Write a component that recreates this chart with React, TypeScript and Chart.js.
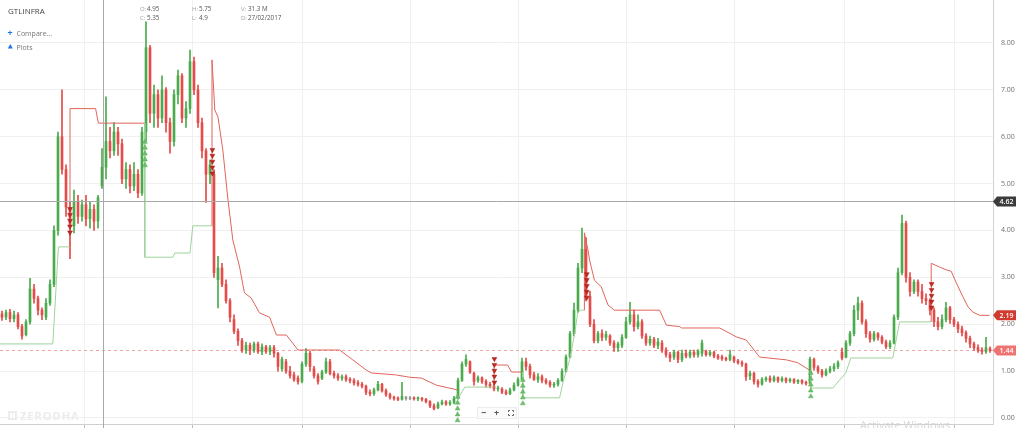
import React, { useEffect, useRef } from "react";
import { Chart, registerables } from "chart.js";

Chart.register(...registerables);

const W = 1024;
const H = 428;

// ---- Weekly OHLC of GTLINFRA ----
const opens = [
  2.22, 2.15, 2.25, 2.12, 2.2, 1.95, 1.78, 2.05, 2.75, 2.55,
  2.3, 2.15, 2.45, 2.85, 4.0, 6.0, 5.3, 4.5, 4.1, 4.6,
  4.3, 4.55, 4.25, 4.45, 4.2, 4.95, 5.35, 5.9, 5.7, 6.1,
  5.85, 5.1, 5.3, 4.95, 5.2, 4.8, 6.1, 7.9, 6.5, 6.9,
  6.4, 7.0, 6.3, 5.9, 6.9, 7.3, 6.4, 6.6, 7.6, 7.0,
  6.3, 5.7, 5.2, 5.2, 2.95, 3.2, 2.85, 2.5, 2.1, 1.85,
  1.65, 1.45, 1.55, 1.45, 1.58, 1.42, 1.52, 1.42, 1.5, 1.38,
  1.05, 1.2, 1.0, 0.92, 0.85, 0.78, 1.15, 1.38, 1.05, 0.9,
  0.85, 0.98, 1.2, 0.95, 0.9, 0.85, 0.88, 0.82, 0.8, 0.75,
  0.72, 0.68, 0.55, 0.52, 0.6, 0.72, 0.58, 0.5, 0.44, 0.42,
  0.4, 0.44, 0.43, 0.43, 0.41, 0.42, 0.4, 0.35, 0.26, 0.22,
  0.3, 0.34, 0.3, 0.33, 0.42, 0.8, 1.15, 1.2, 0.95, 0.8,
  0.86, 0.78, 0.72, 0.68, 0.62, 0.62, 0.56, 0.52, 0.6, 0.7,
  0.82, 1.2, 1.1, 0.92, 0.82, 0.88, 0.8, 0.76, 0.7, 0.72,
  0.8, 1.0, 1.3, 1.8, 2.3, 3.2, 3.6, 2.6, 2.0, 1.65,
  1.8, 1.72, 1.75, 1.6, 1.5, 1.55, 1.72, 2.05, 2.2, 1.95,
  2.05, 1.75, 1.6, 1.68, 1.55, 1.6, 1.45, 1.35, 1.3, 1.4,
  1.25, 1.38, 1.32, 1.4, 1.35, 1.38, 1.42, 1.35, 1.4, 1.32,
  1.3, 1.27, 1.25, 1.3, 1.22, 1.18, 1.15, 0.9, 0.95, 0.78,
  0.72, 0.82, 0.85, 0.8, 0.86, 0.8, 0.84, 0.79, 0.82, 0.77,
  0.8, 0.76, 0.74, 1.25, 1.08, 1.0, 0.92, 1.0, 1.05, 1.1,
  1.4, 1.3, 1.6, 1.8, 2.3, 2.45, 2.05, 1.8, 1.68, 1.8,
  1.72, 1.62, 1.52, 1.6, 2.15, 3.1, 4.15, 3.0, 2.7, 2.9,
  2.7, 2.55, 2.5, 2.3, 2.05, 1.95, 2.1, 2.35, 2.1, 2.0,
  1.9, 1.82, 1.7, 1.58, 1.5, 1.45, 1.42, 1.48,
];
const highs = [
  2.28, 2.3, 2.32, 2.28, 2.25, 2.0, 2.1, 2.98, 2.85, 2.6,
  2.35, 2.55, 2.95, 4.1, 6.1, 7.0, 5.4, 4.6, 4.86, 4.75,
  4.65, 4.75, 4.6, 4.55, 4.75, 5.75, 6.85, 6.2, 6.3, 6.2,
  5.95, 5.45, 5.4, 5.45, 5.3, 6.2, 8.45, 7.95, 7.1, 7.0,
  7.3, 7.05, 6.4, 7.0, 7.42, 7.35, 6.75, 7.85, 7.7, 7.1,
  6.4, 5.75, 5.5, 5.3, 3.45, 3.3, 2.95, 2.55, 2.2, 1.9,
  1.7, 1.62, 1.6, 1.62, 1.62, 1.58, 1.55, 1.55, 1.55, 1.4,
  1.3, 1.25, 1.1, 0.98, 0.9, 1.2, 1.48, 1.42, 1.1, 0.95,
  1.02, 1.28, 1.25, 1.0, 0.95, 0.92, 0.92, 0.86, 0.84, 0.8,
  0.76, 0.7, 0.6, 0.64, 0.78, 0.74, 0.62, 0.53, 0.47, 0.45,
  0.76, 0.46, 0.46, 0.45, 0.45, 0.44, 0.42, 0.37, 0.3, 0.34,
  0.38, 0.37, 0.37, 0.46, 0.85, 1.2, 1.35, 1.22, 0.98, 0.9,
  0.88, 0.82, 0.76, 0.72, 0.68, 0.65, 0.6, 0.64, 0.75, 0.86,
  1.28, 1.28, 1.15, 0.98, 0.95, 0.92, 0.84, 0.8, 0.76, 0.84,
  1.05, 1.35, 1.85, 2.45, 3.3, 4.05, 3.85, 2.7, 2.1, 1.85,
  1.88, 1.85, 1.78, 1.65, 1.62, 1.78, 2.15, 2.47, 2.3, 2.2,
  2.1, 1.8, 1.75, 1.72, 1.7, 1.65, 1.5, 1.4, 1.45, 1.42,
  1.45, 1.45, 1.45, 1.45, 1.46, 1.66, 1.45, 1.44, 1.42, 1.36,
  1.34, 1.3, 1.45, 1.32, 1.25, 1.22, 1.17, 1.0, 0.98, 0.82,
  0.86, 0.88, 0.9, 0.9, 0.88, 0.88, 0.86, 0.85, 0.84, 0.82,
  0.82, 0.79, 1.3, 1.28, 1.12, 1.04, 1.05, 1.1, 1.16, 1.22,
  1.49, 1.65, 1.85, 2.4, 2.58, 2.5, 2.1, 1.85, 1.85, 1.82,
  1.76, 1.66, 1.65, 2.2, 3.2, 4.33, 4.2, 3.1, 2.95, 2.95,
  2.85, 2.65, 2.55, 2.35, 2.15, 2.2, 2.47, 2.38, 2.15, 2.05,
  1.96, 1.86, 1.75, 1.62, 1.56, 1.5, 1.72, 1.52,
];
const lows = [
  2.08, 2.1, 2.05, 2.05, 1.9, 1.68, 1.75, 2.0, 2.45, 2.2,
  2.1, 2.1, 2.4, 2.8, 3.9, 5.2, 4.3, 3.4, 3.95, 4.15,
  4.2, 4.1, 4.05, 4.0, 4.05, 4.9, 5.1, 5.55, 5.6, 5.6,
  5.0, 4.9, 4.8, 4.85, 4.7, 4.75, 5.9, 6.3, 6.2, 6.2,
  6.3, 6.1, 5.65, 5.8, 6.7, 6.3, 6.2, 6.5, 6.9, 6.2,
  5.55, 4.6, 5.0, 3.0, 2.35, 2.8, 2.45, 2.05, 1.8, 1.55,
  1.4, 1.38, 1.35, 1.4, 1.38, 1.35, 1.38, 1.35, 1.3, 1.0,
  1.0, 0.95, 0.85, 0.78, 0.72, 0.75, 1.1, 1.0, 0.85, 0.72,
  0.82, 0.95, 0.92, 0.85, 0.8, 0.8, 0.78, 0.75, 0.7, 0.68,
  0.64, 0.5, 0.47, 0.48, 0.58, 0.55, 0.46, 0.4, 0.38, 0.37,
  0.38, 0.38, 0.39, 0.38, 0.37, 0.36, 0.32, 0.22, 0.17, 0.2,
  0.28, 0.27, 0.27, 0.3, 0.4, 0.78, 1.1, 0.95, 0.7, 0.76,
  0.74, 0.66, 0.64, 0.58, 0.57, 0.52, 0.49, 0.5, 0.58, 0.68,
  0.8, 1.02, 0.85, 0.8, 0.76, 0.75, 0.72, 0.66, 0.65, 0.68,
  0.78, 0.98, 1.28, 1.75, 2.25, 3.1, 2.5, 1.95, 1.6, 1.6,
  1.65, 1.66, 1.55, 1.42, 1.42, 1.5, 1.7, 2.0, 1.85, 1.9,
  1.7, 1.55, 1.55, 1.5, 1.48, 1.4, 1.3, 1.2, 1.25, 1.18,
  1.2, 1.28, 1.28, 1.3, 1.3, 1.32, 1.32, 1.32, 1.28, 1.25,
  1.23, 1.22, 1.22, 1.18, 1.15, 1.1, 0.8, 0.82, 0.72, 0.66,
  0.7, 0.78, 0.76, 0.77, 0.76, 0.77, 0.75, 0.76, 0.74, 0.73,
  0.72, 0.7, 0.72, 1.02, 0.95, 0.87, 0.9, 0.96, 1.0, 1.05,
  1.24, 1.28, 1.55, 1.75, 2.1, 2.0, 1.72, 1.62, 1.64, 1.66,
  1.58, 1.48, 1.48, 1.58, 2.1, 3.05, 2.9, 2.6, 2.65, 2.6,
  2.45, 2.42, 2.2, 1.95, 1.88, 1.9, 2.05, 2.02, 1.95, 1.82,
  1.75, 1.62, 1.5, 1.44, 1.4, 1.36, 1.38, 1.4,
];
const closes = [
  2.15, 2.25, 2.12, 2.2, 1.95, 1.75, 2.05, 2.75, 2.55, 2.3,
  2.2, 2.45, 2.85, 4.0, 6.0, 5.3, 4.5, 4.1, 4.6, 4.3,
  4.55, 4.25, 4.45, 4.2, 4.7, 5.35, 5.9, 5.7, 6.1, 5.85,
  5.1, 5.3, 4.95, 5.2, 4.8, 6.1, 7.9, 6.5, 6.9, 6.4,
  7.0, 6.3, 5.9, 6.9, 7.3, 6.4, 6.6, 7.6, 7.0, 6.3,
  5.7, 5.2, 5.4, 3.1, 3.2, 2.85, 2.5, 2.15, 1.85, 1.65,
  1.45, 1.55, 1.45, 1.58, 1.42, 1.52, 1.42, 1.5, 1.38, 1.1,
  1.25, 1.0, 0.9, 0.82, 0.78, 1.15, 1.38, 1.1, 0.9, 0.78,
  0.98, 1.2, 0.95, 0.9, 0.85, 0.88, 0.82, 0.8, 0.75, 0.72,
  0.68, 0.55, 0.52, 0.6, 0.72, 0.58, 0.5, 0.44, 0.42, 0.4,
  0.46, 0.44, 0.43, 0.41, 0.42, 0.4, 0.35, 0.26, 0.2, 0.3,
  0.34, 0.3, 0.33, 0.42, 0.8, 1.15, 1.25, 0.98, 0.78, 0.86,
  0.78, 0.72, 0.68, 0.62, 0.64, 0.55, 0.52, 0.6, 0.7, 0.82,
  1.2, 1.1, 0.92, 0.82, 0.88, 0.8, 0.76, 0.7, 0.72, 0.8,
  1.0, 1.3, 1.8, 2.3, 3.2, 3.6, 2.6, 2.0, 1.65, 1.8,
  1.72, 1.78, 1.6, 1.5, 1.58, 1.72, 2.05, 2.2, 1.95, 2.05,
  1.75, 1.6, 1.68, 1.55, 1.62, 1.45, 1.35, 1.28, 1.4, 1.25,
  1.38, 1.32, 1.4, 1.35, 1.42, 1.6, 1.35, 1.4, 1.32, 1.28,
  1.27, 1.25, 1.35, 1.22, 1.18, 1.15, 0.88, 0.95, 0.78, 0.72,
  0.82, 0.85, 0.8, 0.86, 0.8, 0.84, 0.79, 0.82, 0.77, 0.8,
  0.76, 0.74, 1.25, 1.08, 1.0, 0.92, 1.0, 1.05, 1.1, 1.18,
  1.28, 1.6, 1.8, 2.3, 2.45, 2.05, 1.8, 1.68, 1.8, 1.72,
  1.62, 1.52, 1.6, 2.15, 3.1, 4.15, 3.0, 2.7, 2.9, 2.7,
  2.55, 2.5, 2.3, 2.05, 1.95, 2.1, 2.35, 2.1, 2.0, 1.9,
  1.82, 1.7, 1.58, 1.5, 1.45, 1.42, 1.5, 1.44,
];

// ---- Trailing-stop study (segments of [candleIndex, price]) ----
const greenStopSegments = [
  [[-0.6, 1.58], [12.7, 1.58], [14.1, 3.65], [17, 3.65]],
  [[35.7, 6.29], [35.7, 3.43], [42.7, 3.43], [43.2, 3.52], [47, 3.52], [47.7, 4.1], [52.5, 4.1]],
  [[113.8, 0.38], [115.7, 0.66], [122.9, 0.66]],
  [[130.2, 0.98], [130.2, 0.43], [139.4, 0.43], [140.4, 0.81], [141.9, 1.24], [143.2, 1.81], [143.9, 2.24], [144.7, 2.3], [145.6, 2.3]],
  [[202.2, 1.02], [202.2, 0.64], [207.7, 0.64], [209.4, 0.81], [210.9, 0.95], [212.2, 1.28], [222.7, 1.28], [224.4, 2.05], [232.3, 2.05]],
];
const redStopSegments = [
  [[17, 3.65], [17, 6.6], [23.4, 6.6], [24.1, 6.29], [35.6, 6.29]],
  [[52.5, 4.1], [52.5, 7.64], [53.2, 6.57], [54, 6.42], [55.2, 5.72], [56.5, 4.65], [57.7, 3.8], [59.4, 3.22], [60.6, 2.67], [62.3, 2.56], [64.4, 2.24], [66.9, 2.15], [68.6, 1.77], [71.1, 1.77], [74, 1.45], [84.4, 1.45], [87.7, 1.24], [91.1, 1.02], [92.4, 0.96], [98.4, 0.92], [101.9, 0.87], [104.9, 0.85], [108.6, 0.7], [113.8, 0.6]],
  [[123, 0.66], [123, 1.13], [126.4, 1.13], [127.4, 0.98], [129.9, 0.98]],
  [[145.6, 2.3], [145.6, 3.95], [146.5, 3.58], [146.9, 3.37], [148.1, 2.94], [149.8, 2.8], [151.5, 2.41], [153.1, 2.3], [164.4, 2.3], [166.1, 1.98], [169.4, 1.95], [169.9, 1.92], [179.4, 1.92], [183.6, 1.73], [186.1, 1.66], [189.4, 1.3], [196.1, 1.24], [198.9, 1.18], [201.9, 1.02]],
  [[232.3, 2.05], [232.3, 3.3], [234.4, 3.22], [236.1, 3.16], [237.3, 3.13], [238.6, 2.88], [240.2, 2.59], [241.5, 2.37], [242.7, 2.26], [244.4, 2.19], [246.9, 2.19]],
];

// signal markers: [candleIndex, top price of the stack]
const sellSignals = [[17, 4.46], [52.6, 5.72], [123.1, 1.26], [146.2, 3.07], [232.4, 2.86]];
const buySignals = [[35.75, 5.89], [113.9, 0.45], [130.2, 0.81], [202.2, 0.96]];
const markersPerSignal = 5;
const markerStep = 0.125;

const priceTicks = [0, 1, 2, 3, 4, 5, 6, 7, 8];
const yearTickIndex = [20.7, 47.7, 75.2, 102.2, 129.2, 156.2, 183.2, 210.5, 238];

const crossIndex = 25.2;
const crossPrice = 4.62;
const lastPrice = 1.44;
const stopPrice = 2.19;

const header = { symbol: "GTLINFRA", O: "4.95", C: "5.35", H: "5.75", L: "4.9", V: "31.3 M", D: "27/02/2017" };

const X_MIN = -0.5;
const X_MAX = X_MIN + 993 / 4;
const Y_MIN = -0.128;
const Y_MAX = 8.9173;

const GREEN = "#4aab4d";
const RED = "#e24c4a";
const GRAY = "#9a9a9a";
const FONT = '"Open Sans", "Lato", sans-serif';

function candleColor(i: number) {
  const d = closes[i] - opens[i];
  if (d > 0.004) return GREEN;
  if (d < -0.004) return RED;
  return GRAY;
}

function badge(ctx: CanvasRenderingContext2D, x: number, y: number, text: string, color: string) {
  const h = 10;
  const bx = x + 4;
  const bw = 19;
  ctx.fillStyle = color;
  ctx.beginPath();
  ctx.moveTo(x, y);
  ctx.lineTo(bx, y - h / 2);
  ctx.lineTo(bx + bw, y - h / 2);
  ctx.lineTo(bx + bw, y + h / 2);
  ctx.lineTo(bx, y + h / 2);
  ctx.closePath();
  ctx.fill();
  ctx.fillStyle = "#ffffff";
  ctx.font = `600 7px ${FONT}`;
  ctx.textAlign = "center";
  ctx.textBaseline = "middle";
  ctx.fillText(text, bx + bw / 2, y + 0.5);
}

const overlayPlugin = {
  id: "overlay",
  beforeDatasetsDraw(chart: any) {
    const { ctx, chartArea: a, scales } = chart;
    const y = scales.y;
    const yl = Math.round(y.getPixelForValue(lastPrice)) + 0.5;
    ctx.save();
    ctx.strokeStyle = "#f1a4a4";
    ctx.lineWidth = 1;
    ctx.setLineDash([3, 3]);
    ctx.beginPath();
    ctx.moveTo(a.left, yl);
    ctx.lineTo(a.right, yl);
    ctx.stroke();
    ctx.restore();
  },
  afterDatasetsDraw(chart: any) {
    const { ctx, chartArea: a, scales } = chart;
    const x = scales.x;
    const y = scales.y;
    ctx.save();
    ctx.strokeStyle = "#a9a9a9";
    ctx.lineWidth = 1;
    const xc = Math.round(x.getPixelForValue(crossIndex)) + 0.5;
    ctx.beginPath();
    ctx.moveTo(xc, 0);
    ctx.lineTo(xc, H);
    ctx.stroke();
    const yc = Math.round(y.getPixelForValue(crossPrice)) + 0.5;
    ctx.beginPath();
    ctx.moveTo(a.left, yc);
    ctx.lineTo(a.right, yc);
    ctx.stroke();
    ctx.restore();
  },
  afterDraw(chart: any) {
    const { ctx, chartArea: a, scales } = chart;
    const y = scales.y;
    ctx.save();
    badge(ctx, a.right, y.getPixelForValue(crossPrice), crossPrice.toFixed(2), "#3b3b3b");
    badge(ctx, a.right, y.getPixelForValue(stopPrice), stopPrice.toFixed(2), "#cf3b2e");
    badge(ctx, a.right, y.getPixelForValue(lastPrice), lastPrice.toFixed(2), "#ee7471");

    ctx.textAlign = "left";
    ctx.textBaseline = "middle";
    ctx.fillStyle = "#454545";
    ctx.font = `8px ${FONT}`;
    ctx.fillText(header.symbol, 8, 11.5);

    const pair = (lab: string, val: string, px: number, py: number) => {
      ctx.font = `6px ${FONT}`;
      ctx.fillStyle = "#a0a0a0";
      ctx.fillText(lab, px, py);
      ctx.fillStyle = "#555555";
      ctx.font = `6.3px ${FONT}`;
      ctx.fillText(val, px + 7, py);
    };
    pair("O:", header.O, 140, 9.5);
    pair("C:", header.C, 140, 18.5);
    pair("H:", header.H, 192, 9.5);
    pair("L:", header.L, 192, 18.5);
    pair("V:", header.V, 241, 9.5);
    pair("D:", header.D, 241, 18.5);

    ctx.fillStyle = "#1a73e8";
    ctx.font = `bold 9px ${FONT}`;
    ctx.fillText("+", 7.5, 33.5);
    ctx.fillStyle = "#777777";
    ctx.font = `7px ${FONT}`;
    ctx.fillText("Compare...", 16.5, 33.5);
    ctx.fillStyle = "#1a73e8";
    ctx.beginPath();
    ctx.moveTo(10.3, 44);
    ctx.lineTo(12.8, 48.5);
    ctx.lineTo(7.8, 48.5);
    ctx.closePath();
    ctx.fill();
    ctx.fillStyle = "#777777";
    ctx.fillText("Plots", 16.5, 47.5);

    // watermark
    ctx.fillStyle = "#ececec";
    ctx.fillRect(8, 411, 9, 9);
    ctx.fillStyle = "#ffffff";
    ctx.fillRect(10, 413, 2, 5);
    ctx.fillRect(13, 413, 2, 5);
    ctx.fillStyle = "#ececec";
    ctx.font = `bold 11px ${FONT}`;
    (ctx as any).letterSpacing = "1px";
    ctx.fillText("ZERODHA", 20, 416.5);
    (ctx as any).letterSpacing = "0px";

    // zoom controls
    ctx.fillStyle = "#fbfbfb";
    ctx.strokeStyle = "#ececec";
    ctx.fillRect(477, 407, 40, 12);
    ctx.strokeRect(477.5, 407.5, 39, 11);
    ctx.fillStyle = "#555555";
    ctx.font = `bold 9px ${FONT}`;
    ctx.textAlign = "center";
    ctx.fillText("\u2212", 483.5, 413);
    ctx.fillText("+", 496.5, 413);
    ctx.strokeStyle = "#666666";
    ctx.lineWidth = 1;
    ctx.beginPath();
    ctx.moveTo(508.5, 412); ctx.lineTo(508.5, 410.5); ctx.lineTo(510, 410.5);
    ctx.moveTo(512, 410.5); ctx.lineTo(513.5, 410.5); ctx.lineTo(513.5, 412);
    ctx.moveTo(513.5, 414); ctx.lineTo(513.5, 415.5); ctx.lineTo(512, 415.5);
    ctx.moveTo(510, 415.5); ctx.lineTo(508.5, 415.5); ctx.lineTo(508.5, 414);
    ctx.stroke();

    ctx.textAlign = "left";
    ctx.textBaseline = "top";
    ctx.fillStyle = "#d6d6d6";
    ctx.font = `11px ${FONT}`;
    ctx.fillText("Activate Windows", 860, 420);
    ctx.restore();
  },
};

export default function App() {
  const ref = useRef<HTMLCanvasElement>(null);

  useEffect(() => {
    const canvas = ref.current;
    if (!canvas) return;
    const idx = opens.map((_, i) => i);
    const colors = idx.map(candleColor);

    const datasets: any[] = [
      {
        type: "bar",
        label: "wick",
        data: idx.map((i) => ({ x: i, y: [lows[i], highs[i]] })),
        backgroundColor: colors,
        barThickness: 1,
        grouped: false,
        order: 4,
      },
      {
        type: "bar",
        label: "body",
        data: idx.map((i) => ({ x: i, y: [Math.min(opens[i], closes[i]), Math.max(opens[i], closes[i])] })),
        backgroundColor: colors,
        barThickness: 2,
        minBarLength: 1,
        grouped: false,
        order: 3,
      },
    ];
    redStopSegments.forEach((seg) =>
      datasets.push({
        type: "line",
        data: seg.map(([x, v]) => ({ x, y: v })),
        borderColor: "#e0645a",
        borderWidth: 1,
        pointRadius: 0,
        tension: 0,
        order: 2,
      })
    );
    greenStopSegments.forEach((seg) =>
      datasets.push({
        type: "line",
        data: seg.map(([x, v]) => ({ x, y: v })),
        borderColor: "#9fd29a",
        borderWidth: 1,
        pointRadius: 0,
        tension: 0,
        order: 2,
      })
    );
    const sellPts: any[] = [];
    sellSignals.forEach(([x, top]) => {
      for (let k = 0; k < markersPerSignal; k++) sellPts.push({ x, y: top - k * markerStep });
    });
    const buyPts: any[] = [];
    buySignals.forEach(([x, top]) => {
      for (let k = 0; k < markersPerSignal; k++) buyPts.push({ x, y: top - k * markerStep });
    });
    datasets.push({
      type: "scatter",
      data: sellPts,
      pointStyle: "triangle",
      rotation: 180,
      pointRadius: 2.8,
      backgroundColor: "#c0281f",
      borderColor: "#a51f18",
      borderWidth: 0.5,
      order: 1,
    });
    datasets.push({
      type: "scatter",
      data: buyPts,
      pointStyle: "triangle",
      pointRadius: 2.8,
      backgroundColor: "#6cc06c",
      borderColor: "#5cae5c",
      borderWidth: 0.5,
      order: 1,
    });

    const chart = new Chart(canvas, {
      type: "bar",
      data: { datasets },
      plugins: [overlayPlugin as any],
      options: {
        responsive: false,
        animation: false,
        devicePixelRatio: 1,
        events: [],
        layout: { padding: 0, autoPadding: false },
        plugins: { legend: { display: false }, tooltip: { enabled: false } },
        scales: {
          x: {
            type: "linear",
            min: X_MIN,
            max: X_MAX,
            offset: false,
            afterBuildTicks: (s: any) => {
              s.ticks = yearTickIndex.map((v) => ({ value: v }));
            },
            afterFit: (s: any) => {
              s.height = 4;
              s.paddingLeft = 0;
              s.paddingRight = 0;
            },
            ticks: { display: false },
            grid: { offset: false, color: "#f0f0f0", drawTicks: true, tickLength: 4, tickColor: "#bdbdbd" },
            border: { display: true, color: "#cfcfcf" },
          },
          y: {
            type: "linear",
            position: "right",
            min: Y_MIN,
            max: Y_MAX,
            beginAtZero: false,
            afterBuildTicks: (s: any) => {
              s.ticks = priceTicks.map((v) => ({ value: v }));
            },
            afterFit: (s: any) => {
              s.width = 31;
              s.paddingTop = 0;
              s.paddingBottom = 0;
            },
            ticks: {
              callback: (v: any) => Number(v).toFixed(2),
              font: { size: 7, family: FONT },
              color: "#707070",
              padding: 8,
            },
            grid: { color: "#f0f0f0", drawTicks: false },
            border: { display: true, color: "#d2d2d2" },
          },
        },
      } as any,
    });
    return () => chart.destroy();
  }, []);

  return (
    <div style={{ position: "fixed", left: 0, top: 0, width: W, height: H, overflow: "hidden", background: "#ffffff" }}>
      <canvas ref={ref} width={W} height={H} style={{ display: "block", width: W, height: H }} />
    </div>
  );
}
